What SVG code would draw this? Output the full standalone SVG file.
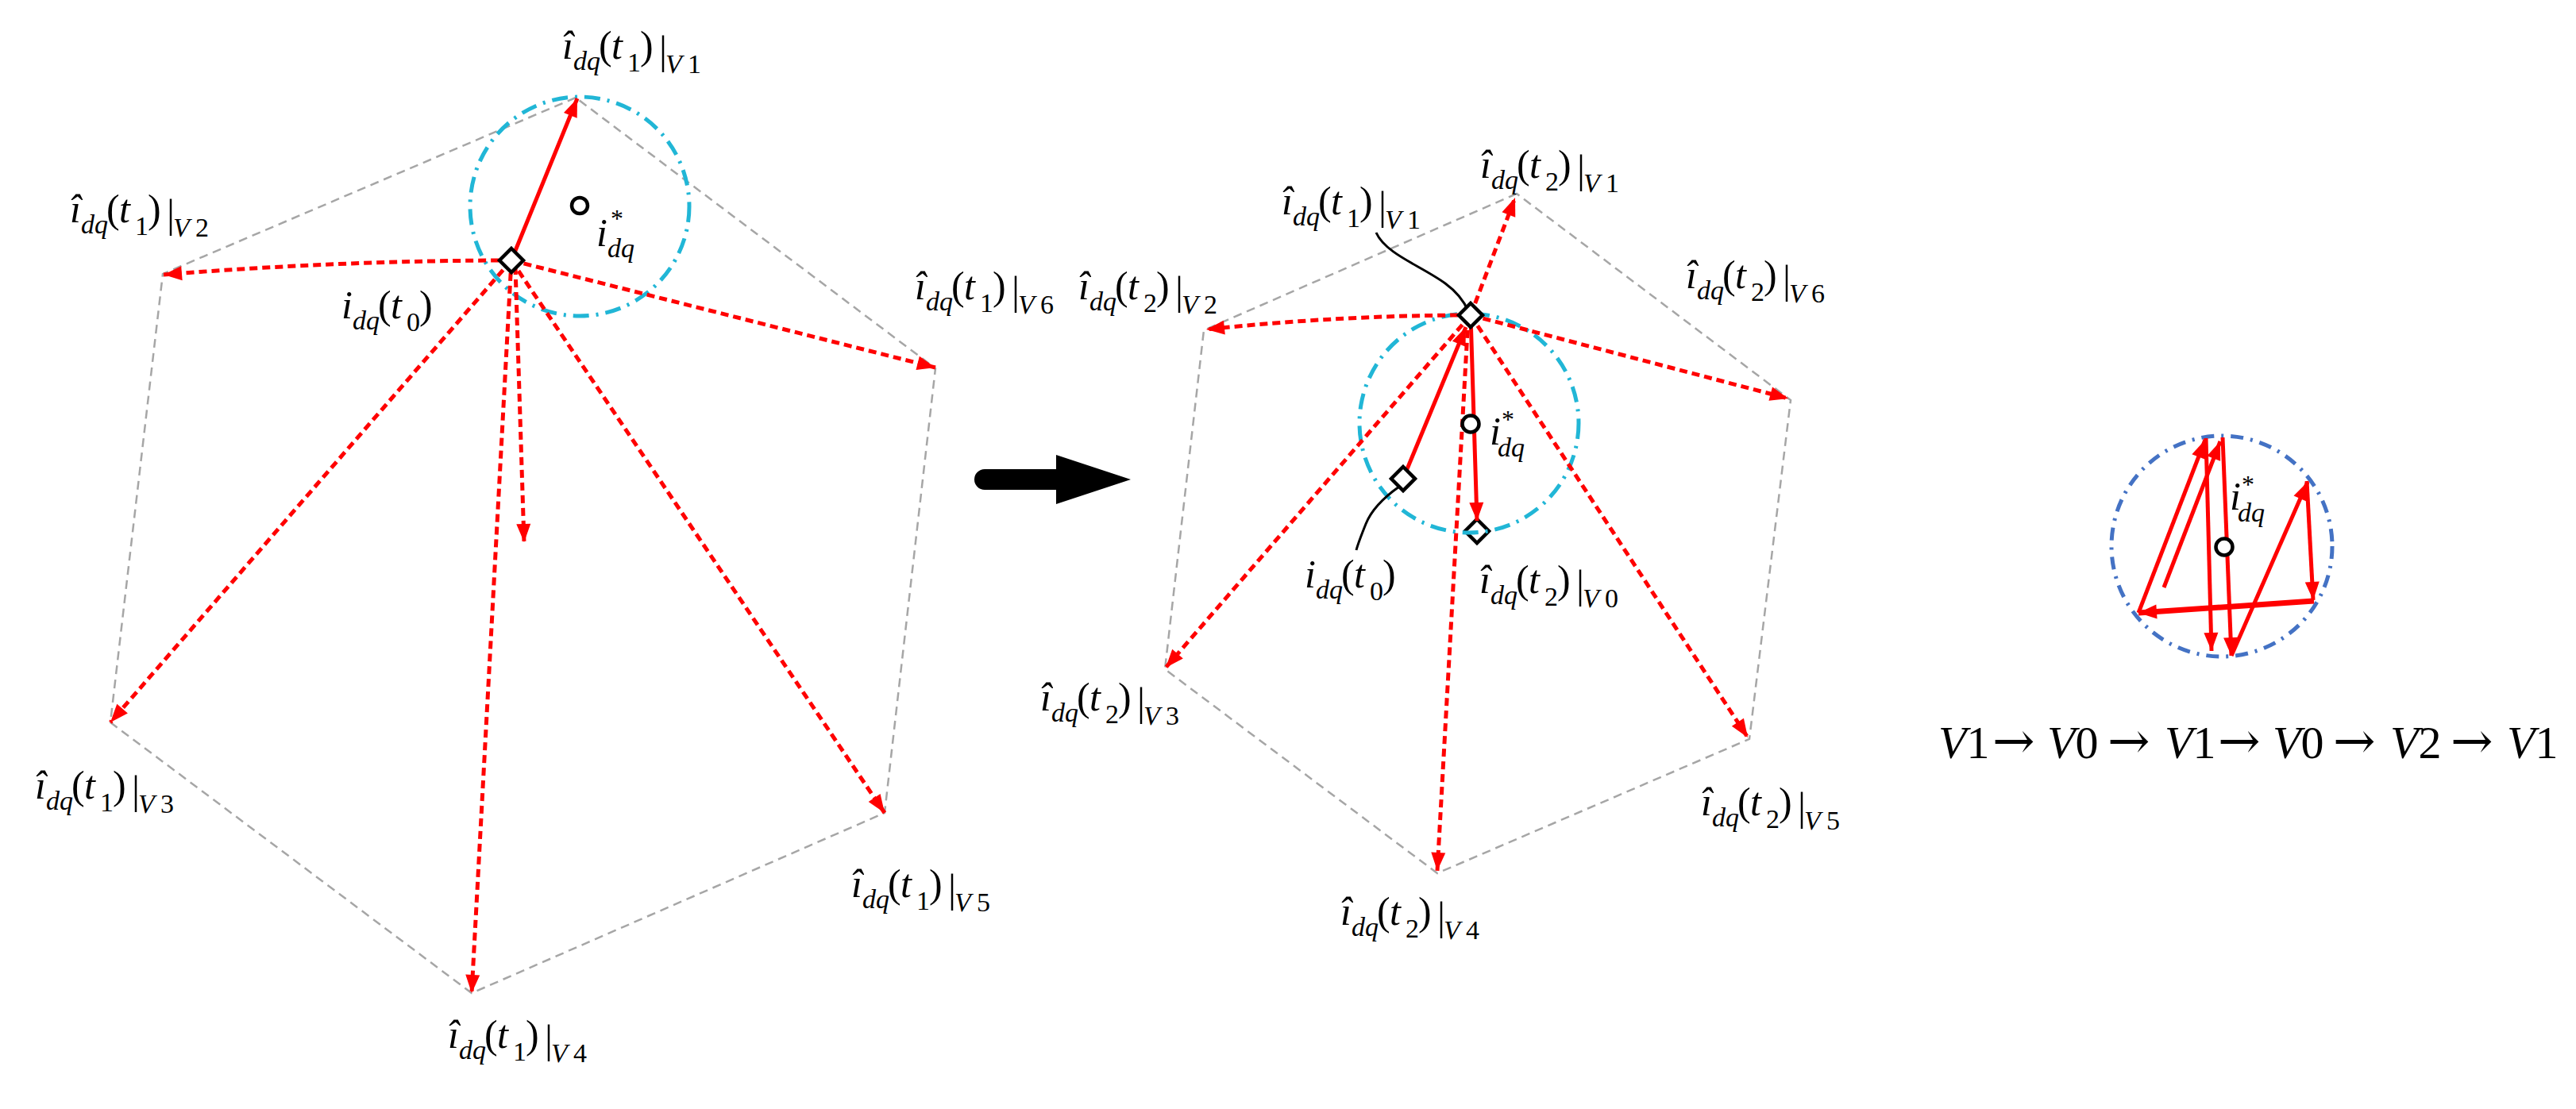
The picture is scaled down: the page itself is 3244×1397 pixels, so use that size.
<svg xmlns="http://www.w3.org/2000/svg" xmlns:xlink="http://www.w3.org/1999/xlink" width="3244" height="1397" viewBox="0 0 3244 1397">
<style>
.t{font-family:"Liberation Serif","Times New Roman",serif;font-size:50px;fill:#000}
.i{font-style:italic}
.s{font-size:34px}
.ast{font-size:32px}
.seq{font-size:58px}
.arr{font-family:"DejaVu Serif","Liberation Serif",serif;font-size:64px;font-style:normal}
.hex{fill:none;stroke:#a6a6a6;stroke-width:2.5;stroke-dasharray:11 7}
.rd{fill:none;stroke:#ff0000;stroke-width:5;stroke-dasharray:10 6;marker-end:url(#ah)}
.rs{fill:none;stroke:#ff0000;stroke-width:5;marker-end:url(#ah)}
.cy{fill:none;stroke:#21b6d6;stroke-width:5;stroke-dasharray:20 9 3 9}
.bl{fill:none;stroke:#4472c4;stroke-width:5;stroke-dasharray:16 9 3 9}
.ref{fill:#fff;stroke:#000;stroke-width:4.5}
.dia{fill:#fff;stroke:#000;stroke-width:4.5;stroke-linejoin:miter}
.lead{fill:none;stroke:#000;stroke-width:3}
</style>
<defs>
<marker id="ah" markerUnits="userSpaceOnUse" markerWidth="26" markerHeight="20" viewBox="-24 -10 26 20" refX="0" refY="0" orient="auto">
<path d="M-23,-9 L0,0 L-23,9 Z" fill="#ff0000"/>
</marker>
<path id="dia" d="M0,-15 L15,0 L0,15 L-15,0 Z"/>
</defs>
<rect width="3244" height="1397" fill="#fff"/>

<!-- ===== Left figure ===== -->
<g id="left-figure">
<path id="hex-left" class="hex" d="M725,123 L205,345 L139,910 L594,1251 L1114,1024 L1178,464 Z"/>
<circle id="circle-left" class="cy" cx="730" cy="260" r="138"/>
<g id="connectors-left">
<path class="rd" d="M644,328 Q430,328 206,346"/>
<path class="rd" d="M644,328 L1178,463"/>
<path class="rd" d="M644,328 L139,910"/>
<path class="rd" d="M644,328 L594,1251"/>
<path class="rd" d="M649,336 L660,683"/>
<path class="rd" d="M644,328 L1114,1024"/>
<path class="rs" d="M644,328 L727,124"/>
</g>
<g id="ref-left"><circle class="ref" cx="730" cy="259" r="10"/></g>
<g id="node-left-t0"><use xlink:href="#dia" class="dia" x="644" y="328"/></g>

<g id="lbl-l-v1" transform="translate(708,74)">
<text class="t"><tspan class="i" x="0" y="0">î</tspan><tspan class="i s" x="14" y="14">dq</tspan><tspan x="46" y="0">(</tspan><tspan class="i" x="62" y="0">t</tspan><tspan class="s" x="82" y="16">1</tspan><tspan x="98" y="0">)</tspan><tspan x="122" y="6">|</tspan><tspan class="i s" x="130" y="18">V</tspan><tspan class="s" x="158" y="18">1</tspan></text>
</g>
<g id="lbl-l-v2" transform="translate(88,280)">
<text class="t"><tspan class="i" x="0" y="0">î</tspan><tspan class="i s" x="14" y="14">dq</tspan><tspan x="46" y="0">(</tspan><tspan class="i" x="62" y="0">t</tspan><tspan class="s" x="82" y="16">1</tspan><tspan x="98" y="0">)</tspan><tspan x="122" y="6">|</tspan><tspan class="i s" x="130" y="18">V</tspan><tspan class="s" x="158" y="18">2</tspan></text>
</g>
<g id="lbl-l-v6" transform="translate(1152,377)">
<text class="t"><tspan class="i" x="0" y="0">î</tspan><tspan class="i s" x="14" y="14">dq</tspan><tspan x="46" y="0">(</tspan><tspan class="i" x="62" y="0">t</tspan><tspan class="s" x="82" y="16">1</tspan><tspan x="98" y="0">)</tspan><tspan x="122" y="6">|</tspan><tspan class="i s" x="130" y="18">V</tspan><tspan class="s" x="158" y="18">6</tspan></text>
</g>
<g id="lbl-l-v3" transform="translate(44,1006)">
<text class="t"><tspan class="i" x="0" y="0">î</tspan><tspan class="i s" x="14" y="14">dq</tspan><tspan x="46" y="0">(</tspan><tspan class="i" x="62" y="0">t</tspan><tspan class="s" x="82" y="16">1</tspan><tspan x="98" y="0">)</tspan><tspan x="122" y="6">|</tspan><tspan class="i s" x="130" y="18">V</tspan><tspan class="s" x="158" y="18">3</tspan></text>
</g>
<g id="lbl-l-v4" transform="translate(564,1320)">
<text class="t"><tspan class="i" x="0" y="0">î</tspan><tspan class="i s" x="14" y="14">dq</tspan><tspan x="46" y="0">(</tspan><tspan class="i" x="62" y="0">t</tspan><tspan class="s" x="82" y="16">1</tspan><tspan x="98" y="0">)</tspan><tspan x="122" y="6">|</tspan><tspan class="i s" x="130" y="18">V</tspan><tspan class="s" x="158" y="18">4</tspan></text>
</g>
<g id="lbl-l-v5" transform="translate(1072,1130)">
<text class="t"><tspan class="i" x="0" y="0">î</tspan><tspan class="i s" x="14" y="14">dq</tspan><tspan x="46" y="0">(</tspan><tspan class="i" x="62" y="0">t</tspan><tspan class="s" x="82" y="16">1</tspan><tspan x="98" y="0">)</tspan><tspan x="122" y="6">|</tspan><tspan class="i s" x="130" y="18">V</tspan><tspan class="s" x="158" y="18">5</tspan></text>
</g>
<g id="lbl-l-t0" transform="translate(430,401)">
<text class="t"><tspan class="i" x="0" y="0">i</tspan><tspan class="i s" x="14" y="14">dq</tspan><tspan x="46" y="0">(</tspan><tspan class="i" x="62" y="0">t</tspan><tspan class="s" x="82" y="16">0</tspan><tspan x="98" y="0">)</tspan></text>
</g>
<g id="lbl-l-ref" transform="translate(751,310)">
<text class="t"><tspan class="i" x="0" y="0">i</tspan><tspan class="ast" x="18" y="-24">*</tspan><tspan class="i s" x="14" y="14">dq</tspan></text>
</g>
</g>

<!-- ===== Transition arrow ===== -->
<g id="big-arrow">
<path d="M1240,591 L1330,591 L1330,573 L1424,604 L1330,635 L1330,617 L1240,617 A13,13 0 0 1 1240,591 Z" fill="#000"/>
</g>

<!-- ===== Middle figure ===== -->
<g id="middle-figure">
<path id="hex-mid" class="hex" d="M1910,244 L1516,416 L1467,843 L1810,1100 L2203,931 L2255,504 Z"/>
<g id="node-mid-v0"><use xlink:href="#dia" x="1860" y="669" style="fill:none;stroke:#000;stroke-width:4.5"/></g>
<circle id="circle-mid" class="cy" cx="1850" cy="533" r="138"/>
<g id="connectors-mid">
<path class="rd" d="M1852,397 L1908,249"/>
<path class="rd" d="M1852,397 Q1690,397 1519,415"/>
<path class="rd" d="M1852,397 L2252,502"/>
<path class="rd" d="M1852,397 L1468,841"/>
<path class="rd" d="M1849,400 L1810,1097"/>
<path class="rd" d="M1852,397 L2201,929"/>
<path class="rs" d="M1767,603 L1846,412"/>
<path class="rs" d="M1852,397 L1860,656"/>
<path class="lead" d="M1733,293 C1745,320 1790,335 1820,357 C1835,368 1844,380 1849,392"/>
<path class="lead" d="M1762,613 C1745,625 1728,640 1720,660 C1714,675 1710,685 1708,693"/>
</g>
<g id="ref-mid"><circle class="ref" cx="1852" cy="534" r="10.5"/></g>
<g id="node-mid-t1"><use xlink:href="#dia" class="dia" x="1852" y="397"/></g>
<g id="node-mid-t0"><use xlink:href="#dia" class="dia" x="1767" y="603"/></g>

<g id="lbl-m-t1v1" transform="translate(1614,270)">
<text class="t"><tspan class="i" x="0" y="0">î</tspan><tspan class="i s" x="14" y="14">dq</tspan><tspan x="46" y="0">(</tspan><tspan class="i" x="62" y="0">t</tspan><tspan class="s" x="82" y="16">1</tspan><tspan x="98" y="0">)</tspan><tspan x="122" y="6">|</tspan><tspan class="i s" x="130" y="18">V</tspan><tspan class="s" x="158" y="18">1</tspan></text>
</g>
<g id="lbl-m-v1" transform="translate(1864,224)">
<text class="t"><tspan class="i" x="0" y="0">î</tspan><tspan class="i s" x="14" y="14">dq</tspan><tspan x="46" y="0">(</tspan><tspan class="i" x="62" y="0">t</tspan><tspan class="s" x="82" y="16">2</tspan><tspan x="98" y="0">)</tspan><tspan x="122" y="6">|</tspan><tspan class="i s" x="130" y="18">V</tspan><tspan class="s" x="158" y="18">1</tspan></text>
</g>
<g id="lbl-m-v2" transform="translate(1358,377)">
<text class="t"><tspan class="i" x="0" y="0">î</tspan><tspan class="i s" x="14" y="14">dq</tspan><tspan x="46" y="0">(</tspan><tspan class="i" x="62" y="0">t</tspan><tspan class="s" x="82" y="16">2</tspan><tspan x="98" y="0">)</tspan><tspan x="122" y="6">|</tspan><tspan class="i s" x="130" y="18">V</tspan><tspan class="s" x="158" y="18">2</tspan></text>
</g>
<g id="lbl-m-v6" transform="translate(2123,363)">
<text class="t"><tspan class="i" x="0" y="0">î</tspan><tspan class="i s" x="14" y="14">dq</tspan><tspan x="46" y="0">(</tspan><tspan class="i" x="62" y="0">t</tspan><tspan class="s" x="82" y="16">2</tspan><tspan x="98" y="0">)</tspan><tspan x="122" y="6">|</tspan><tspan class="i s" x="130" y="18">V</tspan><tspan class="s" x="158" y="18">6</tspan></text>
</g>
<g id="lbl-m-v3" transform="translate(1310,895)">
<text class="t"><tspan class="i" x="0" y="0">î</tspan><tspan class="i s" x="14" y="14">dq</tspan><tspan x="46" y="0">(</tspan><tspan class="i" x="62" y="0">t</tspan><tspan class="s" x="82" y="16">2</tspan><tspan x="98" y="0">)</tspan><tspan x="122" y="6">|</tspan><tspan class="i s" x="130" y="18">V</tspan><tspan class="s" x="158" y="18">3</tspan></text>
</g>
<g id="lbl-m-v4" transform="translate(1688,1165)">
<text class="t"><tspan class="i" x="0" y="0">î</tspan><tspan class="i s" x="14" y="14">dq</tspan><tspan x="46" y="0">(</tspan><tspan class="i" x="62" y="0">t</tspan><tspan class="s" x="82" y="16">2</tspan><tspan x="98" y="0">)</tspan><tspan x="122" y="6">|</tspan><tspan class="i s" x="130" y="18">V</tspan><tspan class="s" x="158" y="18">4</tspan></text>
</g>
<g id="lbl-m-v5" transform="translate(2142,1027)">
<text class="t"><tspan class="i" x="0" y="0">î</tspan><tspan class="i s" x="14" y="14">dq</tspan><tspan x="46" y="0">(</tspan><tspan class="i" x="62" y="0">t</tspan><tspan class="s" x="82" y="16">2</tspan><tspan x="98" y="0">)</tspan><tspan x="122" y="6">|</tspan><tspan class="i s" x="130" y="18">V</tspan><tspan class="s" x="158" y="18">5</tspan></text>
</g>
<g id="lbl-m-v0" transform="translate(1863,747)">
<text class="t"><tspan class="i" x="0" y="0">î</tspan><tspan class="i s" x="14" y="14">dq</tspan><tspan x="46" y="0">(</tspan><tspan class="i" x="62" y="0">t</tspan><tspan class="s" x="82" y="16">2</tspan><tspan x="98" y="0">)</tspan><tspan x="122" y="6">|</tspan><tspan class="i s" x="130" y="18">V</tspan><tspan class="s" x="158" y="18">0</tspan></text>
</g>
<g id="lbl-m-t0" transform="translate(1643,740)">
<text class="t"><tspan class="i" x="0" y="0">i</tspan><tspan class="i s" x="14" y="14">dq</tspan><tspan x="46" y="0">(</tspan><tspan class="i" x="62" y="0">t</tspan><tspan class="s" x="82" y="16">0</tspan><tspan x="98" y="0">)</tspan></text>
</g>
<g id="lbl-m-ref" transform="translate(1876,560)">
<text class="t"><tspan class="i" x="0" y="0">i</tspan><tspan class="ast" x="15" y="-21">*</tspan><tspan class="i s" x="10" y="15">dq</tspan></text>
</g>
</g>

<!-- ===== Right figure ===== -->
<g id="right-figure">
<circle id="circle-right" class="bl" cx="2798" cy="688" r="139"/>
<g id="connectors-right">
<path class="rs" d="M2693,772 L2777,554"/>
<path class="rs" d="M2725,740 L2796,556"/>
<path class="rs" d="M2778,552 L2785,820"/>
<path class="rs" d="M2799,551 L2810,826"/>
<path class="rs" d="M2810,826 L2906,607"/>
<path class="rs" d="M2905,606 L2913,756"/>
<path class="rs" style="stroke-width:7" d="M2914,757 L2693,772"/>
</g>
<g id="ref-right"><circle class="ref" cx="2801" cy="689" r="10.5"/></g>
<g id="lbl-r-ref" transform="translate(2808,642)">
<text class="t"><tspan class="i" x="0" y="0">i</tspan><tspan class="ast" x="15" y="-21">*</tspan><tspan class="i s" x="10" y="15">dq</tspan></text>
</g>
<g id="lbl-sequence">
<text class="t seq" y="955"><tspan class="i" x="2441">V</tspan><tspan>1</tspan><tspan class="arr" x="2509">→</tspan><tspan class="i" x="2578">V</tspan><tspan>0</tspan><tspan class="arr" x="2654">→</tspan><tspan class="i" x="2726">V</tspan><tspan>1</tspan><tspan class="arr" x="2793">→</tspan><tspan class="i" x="2862">V</tspan><tspan>0</tspan><tspan class="arr" x="2938">→</tspan><tspan class="i" x="3010">V</tspan><tspan>2</tspan><tspan class="arr" x="3086">→</tspan><tspan class="i" x="3157">V</tspan><tspan>1</tspan></text>
</g>
</g>
</svg>
